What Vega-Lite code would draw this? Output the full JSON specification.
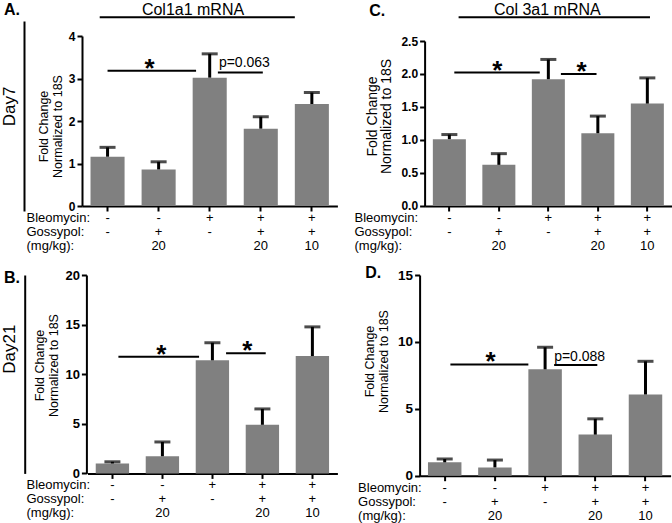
{
  "$schema": "https://vega.github.io/schema/vega-lite/v6.json",
  "padding": {"top": 1, "left": 0, "right": 0, "bottom": 0},
  "datasets": {
    "bars": [
      {"panel": "A", "grp": "-|-| ", "mean": 1.16, "upper": 1.38},
      {"panel": "A", "grp": "-|+|20", "mean": 0.86, "upper": 1.04},
      {"panel": "A", "grp": "+|-| ", "mean": 3.02, "upper": 3.58},
      {"panel": "A", "grp": "+|+|20", "mean": 1.82, "upper": 2.10},
      {"panel": "A", "grp": "+|+|10", "mean": 2.40, "upper": 2.67},
      {"panel": "C", "grp": "-|-| ", "mean": 1.01, "upper": 1.08},
      {"panel": "C", "grp": "-|+|20", "mean": 0.62, "upper": 0.79},
      {"panel": "C", "grp": "+|-| ", "mean": 1.92, "upper": 2.22},
      {"panel": "C", "grp": "+|+|20", "mean": 1.10, "upper": 1.36},
      {"panel": "C", "grp": "+|+|10", "mean": 1.55, "upper": 1.94},
      {"panel": "B", "grp": "-|-| ", "mean": 1.0, "upper": 1.17},
      {"panel": "B", "grp": "-|+|20", "mean": 1.73, "upper": 3.17},
      {"panel": "B", "grp": "+|-| ", "mean": 11.4, "upper": 13.17},
      {"panel": "B", "grp": "+|+|20", "mean": 4.9, "upper": 6.5},
      {"panel": "B", "grp": "+|+|10", "mean": 11.83, "upper": 14.77},
      {"panel": "D", "grp": "-|-| ", "mean": 1.0, "upper": 1.25},
      {"panel": "D", "grp": "-|+|20", "mean": 0.62, "upper": 1.17},
      {"panel": "D", "grp": "+|-| ", "mean": 7.95, "upper": 9.6},
      {"panel": "D", "grp": "+|+|20", "mean": 3.07, "upper": 4.25},
      {"panel": "D", "grp": "+|+|10", "mean": 6.07, "upper": 8.55}
    ],
    "brackets": [
      {"panel": "A", "kind": "a", "from": "-|-| ", "to": "+|-| ", "level": 3.18, "label": "*"},
      {"panel": "A", "kind": "b", "from": "+|-| ", "to": "+|+|20", "level": 3.14, "label": "p=0.063"},
      {"panel": "C", "kind": "a", "from": "-|-| ", "to": "+|-| ", "level": 2.02, "label": "*"},
      {"panel": "C", "kind": "b", "from": "+|-| ", "to": "+|+|20", "level": 2.0, "label": "*"},
      {"panel": "B", "kind": "a", "from": "-|-| ", "to": "+|-| ", "level": 11.76, "label": "*"},
      {"panel": "B", "kind": "b", "from": "+|-| ", "to": "+|+|20", "level": 12.1, "label": "*"},
      {"panel": "D", "kind": "a", "from": "-|-| ", "to": "+|-| ", "level": 8.32, "label": "*"},
      {"panel": "D", "kind": "b", "from": "+|-| ", "to": "+|+|20", "level": 8.27, "label": "p=0.088"}
    ],
    "headers": [
      {"panel": "A", "text": "Col1a1 mRNA"},
      {"panel": "C", "text": "Col 3a1 mRNA"}
    ]
  },
  "columns": 2,
  "spacing": {"row": 69, "column": 81.6},
  "bounds": "flush",
  "concat": [
    {
      "width": 255.4,
      "height": 170,
      "title": {"text": "A.", "anchor": "start", "frame": "group", "fontSize": 16, "fontWeight": "bold", "dx": -78, "dy": 20.7},
      "resolve": {"scale": {"y": "independent"}},
      "layer": [
        {
          "layer": [
            {
              "data": {"name": "bars"},
              "transform": [{"filter": "datum.panel == 'A'"}],
              "mark": {"type": "bar", "color": "#808080"},
              "encoding": {
                "x": {"field": "grp", "type": "nominal",
                  "scale": {"domain": ["-|-| ", "-|+|20", "+|-| ", "+|+|20", "+|+|10"], "paddingInner": 0.333, "paddingOuter": 0.1667},
                  "axis": {"title": ["Bleomycin:", "Gossypol:", "(mg/kg):"], "labelExpr": "split(datum.label, '|')", "labelAngle": 0, "labelAlign": "center", "labelBaseline": "top", "labelPadding": 0.4, "labelFontSize": 13, "labelLineHeight": 14, "labelOverlap": false, "labelBound": false, "titleFontSize": 13, "titleFontWeight": "normal", "titleLineHeight": 14, "titleAlign": "left", "titleBaseline": "top", "titleAngle": 0, "titleX": -56, "titleY": 5.4}},
                "y": {"field": "mean", "type": "quantitative",
                  "scale": {"domain": [0, 4], "nice": false},
                  "axis": {"title": ["Fold Change", "Normalized to 18S"], "values": [0, 1, 2, 3, 4], "labelOverlap": false, "labelFontSize": 12, "labelFontWeight": "bold", "labelPadding": 2, "titleFontSize": 12.5, "titleFontWeight": "normal", "titleLineHeight": 14, "titleX": -38.3, "titleY": 90, "titleAngle": 270, "titleAlign": "center", "titleBaseline": "middle"}}
              }
            },
            {
              "data": {"name": "bars"},
              "transform": [{"filter": "datum.panel == 'A'"}],
              "mark": {"type": "rule", "color": "black", "strokeWidth": 3},
              "encoding": {"x": {"field": "grp", "type": "nominal"}, "y": {"field": "mean", "type": "quantitative"}, "y2": {"field": "upper"}}
            },
            {
              "data": {"name": "bars"},
              "transform": [{"filter": "datum.panel == 'A'"}],
              "mark": {"type": "tick", "color": "black", "thickness": 3, "size": 16},
              "encoding": {"x": {"field": "grp", "type": "nominal"}, "y": {"field": "upper", "type": "quantitative"}}
            },
            {
              "data": {"name": "brackets"},
              "transform": [{"filter": "datum.panel == 'A' && datum.kind == 'a'"}],
              "mark": {"type": "rule", "color": "black", "strokeWidth": 2},
              "encoding": {"x": {"field": "from", "type": "nominal", "bandPosition": 0.5}, "x2": {"field": "to", "bandPosition": 0.1}, "y": {"field": "level", "type": "quantitative"}}
            },
            {
              "data": {"name": "brackets"},
              "transform": [{"filter": "datum.panel == 'A' && datum.kind == 'a'"}],
              "mark": {"type": "text", "fontSize": 26, "fontWeight": "bold", "baseline": "alphabetic", "align": "center", "dy": 6, "color": "black"},
              "encoding": {"x": {"field": "from", "type": "nominal", "bandPosition": 1.73}, "y": {"field": "level", "type": "quantitative"}, "text": {"field": "label"}}
            },
            {
              "data": {"name": "brackets"},
              "transform": [{"filter": "datum.panel == 'A' && datum.kind == 'b'"}],
              "mark": {"type": "rule", "color": "black", "strokeWidth": 2},
              "encoding": {"x": {"field": "from", "type": "nominal", "bandPosition": 0.74}, "x2": {"field": "to", "bandPosition": 0.56}, "y": {"field": "level", "type": "quantitative"}}
            },
            {
              "data": {"name": "brackets"},
              "transform": [{"filter": "datum.panel == 'A' && datum.kind == 'b'"}],
              "mark": {"type": "text", "fontSize": 14, "baseline": "alphabetic", "align": "left", "dy": -5.5, "color": "black"},
              "encoding": {"x": {"field": "from", "type": "nominal", "bandPosition": 0.77}, "y": {"field": "level", "type": "quantitative"}, "text": {"field": "label"}}
            }
          ]
        },
        {
          "data": {"name": "headers"},
          "transform": [{"filter": "datum.panel == 'A'"}],
          "encoding": {
            "y": {"datum": 1.02, "type": "quantitative",
              "scale": {"domain": [0, 1], "range": [175, -15], "nice": false, "zero": false},
              "axis": {"orient": "left", "offset": 58, "title": "Day7", "labels": false, "ticks": false, "values": [0, 1], "titleFontSize": 17, "titleFontWeight": "normal", "titleX": -15, "titleY": 70, "titleAngle": 270, "titleAlign": "center", "titleBaseline": "middle"}}
          },
          "layer": [
            {
              "mark": {"type": "rule", "color": "black", "strokeWidth": 2},
              "encoding": {"x": {"datum": "-|-| ", "type": "nominal", "bandPosition": 0.27}, "x2": {"datum": "+|+|10", "bandPosition": 0}}
            },
            {
              "mark": {"type": "text", "fontSize": 16, "baseline": "alphabetic", "align": "center", "dy": -2.5, "color": "black"},
              "encoding": {"x": {"datum": "+|-| ", "type": "nominal", "bandPosition": 0.01}, "text": {"field": "text"}}
            }
          ]
        }
      ]
    },
    {
      "width": 252.5,
      "height": 170,
      "title": {"text": "C.", "anchor": "start", "frame": "group", "fontSize": 16, "fontWeight": "bold", "dx": -50.3, "dy": 20.7},
      "resolve": {"scale": {"y": "independent"}},
      "layer": [
        {
          "layer": [
            {
              "data": {"name": "bars"},
              "transform": [{"filter": "datum.panel == 'C'"}],
              "mark": {"type": "bar", "color": "#808080"},
              "encoding": {
                "x": {"field": "grp", "type": "nominal",
                  "scale": {"domain": ["-|-| ", "-|+|20", "+|-| ", "+|+|20", "+|+|10"], "range": [5, 252.5], "paddingInner": 0.333, "paddingOuter": 0.1667},
                  "axis": {"title": ["Bleomycin:", "Gossypol:", "(mg/kg):"], "labelExpr": "split(datum.label, '|')", "labelAngle": 0, "labelAlign": "center", "labelBaseline": "top", "labelPadding": 0.4, "labelFontSize": 13, "labelLineHeight": 14, "labelOverlap": false, "labelBound": false, "titleFontSize": 13, "titleFontWeight": "normal", "titleLineHeight": 14, "titleAlign": "left", "titleBaseline": "top", "titleAngle": 0, "titleX": -65.6, "titleY": 5.4}},
                "y": {"field": "mean", "type": "quantitative",
                  "scale": {"domain": [0, 2.5], "range": [169.7, 5], "nice": false},
                  "axis": {"title": ["Fold Change", "Normalized to 18S"], "offset": -5, "values": [0, 0.5, 1, 1.5, 2, 2.5], "tickCount": 6, "labelExpr": "format(datum.value, '.1f')", "labelOverlap": false, "labelSeparation": 0, "labelFontSize": 12, "labelFontWeight": "bold", "labelPadding": 2, "titleFontSize": 14, "titleFontWeight": "normal", "titleLineHeight": 14, "titleX": -52.3, "titleY": 80, "titleAngle": 270, "titleAlign": "center", "titleBaseline": "middle"}}
              }
            },
            {
              "data": {"name": "bars"},
              "transform": [{"filter": "datum.panel == 'C'"}],
              "mark": {"type": "rule", "color": "black", "strokeWidth": 3},
              "encoding": {"x": {"field": "grp", "type": "nominal"}, "y": {"field": "mean", "type": "quantitative"}, "y2": {"field": "upper"}}
            },
            {
              "data": {"name": "bars"},
              "transform": [{"filter": "datum.panel == 'C'"}],
              "mark": {"type": "tick", "color": "black", "thickness": 3, "size": 16},
              "encoding": {"x": {"field": "grp", "type": "nominal"}, "y": {"field": "upper", "type": "quantitative"}}
            },
            {
              "data": {"name": "brackets"},
              "transform": [{"filter": "datum.panel == 'C' && datum.kind == 'a'"}],
              "mark": {"type": "rule", "color": "black", "strokeWidth": 2},
              "encoding": {"x": {"field": "from", "type": "nominal", "bandPosition": 0.65}, "x2": {"field": "to", "bandPosition": 0.24}, "y": {"field": "level", "type": "quantitative"}}
            },
            {
              "data": {"name": "brackets"},
              "transform": [{"filter": "datum.panel == 'C' && datum.kind == 'a'"}],
              "mark": {"type": "text", "fontSize": 26, "fontWeight": "bold", "baseline": "alphabetic", "align": "center", "dy": 6, "color": "black"},
              "encoding": {"x": {"field": "from", "type": "nominal", "bandPosition": 1.95}, "y": {"field": "level", "type": "quantitative"}, "text": {"field": "label"}}
            },
            {
              "data": {"name": "brackets"},
              "transform": [{"filter": "datum.panel == 'C' && datum.kind == 'b'"}],
              "mark": {"type": "rule", "color": "black", "strokeWidth": 2},
              "encoding": {"x": {"field": "from", "type": "nominal", "bandPosition": 0.88}, "x2": {"field": "to", "bandPosition": 0.46}, "y": {"field": "level", "type": "quantitative"}}
            },
            {
              "data": {"name": "brackets"},
              "transform": [{"filter": "datum.panel == 'C' && datum.kind == 'b'"}],
              "mark": {"type": "text", "fontSize": 26, "fontWeight": "bold", "baseline": "alphabetic", "align": "center", "dy": 6, "color": "black"},
              "encoding": {"x": {"field": "to", "type": "nominal", "bandPosition": 0.01}, "y": {"field": "level", "type": "quantitative"}, "text": {"field": "label"}}
            }
          ]
        },
        {
          "data": {"name": "headers"},
          "transform": [{"filter": "datum.panel == 'C'"}],
          "encoding": {
            "y": {"datum": 0.993, "type": "quantitative",
              "scale": {"domain": [0, 1], "range": [170, -20], "nice": false, "zero": false},
              "axis": null}
          },
          "layer": [
            {
              "mark": {"type": "rule", "color": "black", "strokeWidth": 2},
              "encoding": {"x": {"datum": "-|-| ", "type": "nominal", "bandPosition": 0.78}, "x2": {"datum": "+|+|10", "bandPosition": 0.58}}
            },
            {
              "mark": {"type": "text", "fontSize": 16, "baseline": "alphabetic", "align": "center", "dy": -2.5, "color": "black"},
              "encoding": {"x": {"datum": "+|-| ", "type": "nominal", "bandPosition": 0.47}, "text": {"field": "text"}}
            }
          ]
        }
      ]
    },
    {
      "width": 255.4,
      "height": 198.4,
      "title": {"text": "B.", "anchor": "start", "frame": "group", "fontSize": 16, "fontWeight": "bold", "dx": -78, "dy": 21},
      "resolve": {"scale": {"y": "independent"}},
      "layer": [
        {
          "layer": [
            {
              "data": {"name": "bars"},
              "transform": [{"filter": "datum.panel == 'B'"}],
              "mark": {"type": "bar", "color": "#808080"},
              "encoding": {
                "x": {"field": "grp", "type": "nominal",
                  "scale": {"domain": ["-|-| ", "-|+|20", "+|-| ", "+|+|20", "+|+|10"], "range": [5.4, 255.4], "paddingInner": 0.333, "paddingOuter": 0.1667},
                  "axis": {"title": ["Bleomycin:", "Gossypol:", "(mg/kg):"], "labelExpr": "split(datum.label, '|')", "labelAngle": 0, "labelAlign": "center", "labelBaseline": "top", "labelPadding": 0.4, "labelFontSize": 13, "labelLineHeight": 14, "labelOverlap": false, "labelBound": false, "titleFontSize": 13, "titleFontWeight": "normal", "titleLineHeight": 14, "titleAlign": "left", "titleBaseline": "top", "titleAngle": 0, "titleX": -56, "titleY": 5.4}},
                "y": {"field": "mean", "type": "quantitative",
                  "scale": {"domain": [0, 20], "nice": false},
                  "axis": {"title": ["Fold Change", "Normalized to 18S"], "offset": -4.4, "values": [0, 5, 10, 15, 20], "labelOverlap": false, "labelFontSize": 13, "labelFontWeight": "bold", "labelPadding": 2, "titleFontSize": 12.5, "titleFontWeight": "normal", "titleLineHeight": 14, "titleX": -47.4, "titleY": 90, "titleAngle": 270, "titleAlign": "center", "titleBaseline": "middle"}}
              }
            },
            {
              "data": {"name": "bars"},
              "transform": [{"filter": "datum.panel == 'B'"}],
              "mark": {"type": "rule", "color": "black", "strokeWidth": 3},
              "encoding": {"x": {"field": "grp", "type": "nominal"}, "y": {"field": "mean", "type": "quantitative"}, "y2": {"field": "upper"}}
            },
            {
              "data": {"name": "bars"},
              "transform": [{"filter": "datum.panel == 'B'"}],
              "mark": {"type": "tick", "color": "black", "thickness": 3, "size": 16},
              "encoding": {"x": {"field": "grp", "type": "nominal"}, "y": {"field": "upper", "type": "quantitative"}}
            },
            {
              "data": {"name": "brackets"},
              "transform": [{"filter": "datum.panel == 'B' && datum.kind == 'b'"}],
              "mark": {"type": "rule", "color": "black", "strokeWidth": 2},
              "encoding": {"x": {"field": "from", "type": "nominal", "bandPosition": 0.91}, "x2": {"field": "to", "bandPosition": 0.6}, "y": {"field": "level", "type": "quantitative"}}
            },
            {
              "data": {"name": "brackets"},
              "transform": [{"filter": "datum.panel == 'B' && datum.kind == 'b'"}],
              "mark": {"type": "text", "fontSize": 26, "fontWeight": "bold", "baseline": "alphabetic", "align": "center", "dy": 6, "color": "black"},
              "encoding": {"x": {"field": "to", "type": "nominal", "bandPosition": 0.05}, "y": {"field": "level", "type": "quantitative"}, "text": {"field": "label"}}
            }
          ]
        },
        {
          "data": {"name": "brackets"},
          "transform": [{"filter": "datum.panel == 'B' && datum.kind == 'a'"}],
          "encoding": {
            "y": {"field": "level", "type": "quantitative",
              "scale": {"domain": [0, 20], "nice": false},
              "axis": {"orient": "left", "offset": 57.3, "title": "Day21", "labels": false, "ticks": false, "values": [0, 20], "titleFontSize": 17, "titleFontWeight": "normal", "titleX": -14.8, "titleY": 73.7, "titleAngle": 270, "titleAlign": "center", "titleBaseline": "middle"}}
          },
          "layer": [
            {
              "mark": {"type": "rule", "color": "black", "strokeWidth": 2},
              "encoding": {"x": {"field": "from", "type": "nominal", "bandPosition": 0.68}, "x2": {"field": "to", "bandPosition": 0.1}}
            },
            {
              "mark": {"type": "text", "fontSize": 26, "fontWeight": "bold", "baseline": "alphabetic", "align": "center", "dy": 6, "color": "black"},
              "encoding": {"x": {"field": "from", "type": "nominal", "bandPosition": 1.97}, "text": {"field": "label"}}
            }
          ]
        }
      ]
    },
    {
      "width": 251,
      "height": 200.7,
      "title": {"text": "D.", "anchor": "start", "frame": "group", "fontSize": 16, "fontWeight": "bold", "dx": -54.3, "dy": 17},
      "layer": [
        {
          "data": {"name": "bars"},
          "transform": [{"filter": "datum.panel == 'D'"}],
          "mark": {"type": "bar", "color": "#808080"},
          "encoding": {
            "x": {"field": "grp", "type": "nominal",
              "scale": {"domain": ["-|-| ", "-|+|20", "+|-| ", "+|+|20", "+|+|10"], "paddingInner": 0.333, "paddingOuter": 0.1667},
              "axis": {"title": ["Bleomycin:", "Gossypol:", "(mg/kg):"], "labelExpr": "split(datum.label, '|')", "labelAngle": 0, "labelAlign": "center", "labelBaseline": "top", "labelPadding": 0.4, "labelFontSize": 13, "labelLineHeight": 14, "labelOverlap": false, "labelBound": false, "titleFontSize": 13, "titleFontWeight": "normal", "titleLineHeight": 14, "titleAlign": "left", "titleBaseline": "top", "titleAngle": 0, "titleX": -62, "titleY": 5.4}},
            "y": {"field": "mean", "type": "quantitative",
              "scale": {"domain": [0, 15], "nice": false},
              "axis": {"title": ["Fold Change", "Normalized to 18S"], "values": [0, 5, 10, 15], "labelOverlap": false, "labelFontSize": 13.5, "labelFontWeight": "bold", "labelPadding": 2, "titleFontSize": 12.5, "titleFontWeight": "normal", "titleLineHeight": 14, "titleX": -50.6, "titleY": 86, "titleAngle": 270, "titleAlign": "center", "titleBaseline": "middle"}}
          }
        },
        {
          "data": {"name": "bars"},
          "transform": [{"filter": "datum.panel == 'D'"}],
          "mark": {"type": "rule", "color": "black", "strokeWidth": 3},
          "encoding": {"x": {"field": "grp", "type": "nominal"}, "y": {"field": "mean", "type": "quantitative"}, "y2": {"field": "upper"}}
        },
        {
          "data": {"name": "bars"},
          "transform": [{"filter": "datum.panel == 'D'"}],
          "mark": {"type": "tick", "color": "black", "thickness": 3, "size": 16},
          "encoding": {"x": {"field": "grp", "type": "nominal"}, "y": {"field": "upper", "type": "quantitative"}}
        },
        {
          "data": {"name": "brackets"},
          "transform": [{"filter": "datum.panel == 'D' && datum.kind == 'a'"}],
          "mark": {"type": "rule", "color": "black", "strokeWidth": 2},
          "encoding": {"x": {"field": "from", "type": "nominal", "bandPosition": 0.67}, "x2": {"field": "to", "bandPosition": 0}, "y": {"field": "level", "type": "quantitative"}}
        },
        {
          "data": {"name": "brackets"},
          "transform": [{"filter": "datum.panel == 'D' && datum.kind == 'a'"}],
          "mark": {"type": "text", "fontSize": 26, "fontWeight": "bold", "baseline": "alphabetic", "align": "center", "dy": 6, "color": "black"},
          "encoding": {"x": {"field": "from", "type": "nominal", "bandPosition": 1.87}, "y": {"field": "level", "type": "quantitative"}, "text": {"field": "label"}}
        },
        {
          "data": {"name": "brackets"},
          "transform": [{"filter": "datum.panel == 'D' && datum.kind == 'b'"}],
          "mark": {"type": "rule", "color": "black", "strokeWidth": 2},
          "encoding": {"x": {"field": "from", "type": "nominal", "bandPosition": 0.77}, "x2": {"field": "to", "bandPosition": 0.56}, "y": {"field": "level", "type": "quantitative"}}
        },
        {
          "data": {"name": "brackets"},
          "transform": [{"filter": "datum.panel == 'D' && datum.kind == 'b'"}],
          "mark": {"type": "text", "fontSize": 14, "baseline": "alphabetic", "align": "left", "dy": -4, "color": "black"},
          "encoding": {"x": {"field": "from", "type": "nominal", "bandPosition": 0.77}, "y": {"field": "level", "type": "quantitative"}, "text": {"field": "label"}}
        }
      ]
    }
  ],
  "config": {
    "font": "Liberation Sans",
    "view": {"stroke": null},
    "axis": {"domainColor": "black", "tickColor": "black", "labelColor": "black", "titleColor": "black", "domainWidth": 2, "tickWidth": 2, "tickSize": 5, "grid": false, "labelOverlap": false},
    "axisY": {"labelOverlap": false},
    "title": {"color": "black"}
  }
}
